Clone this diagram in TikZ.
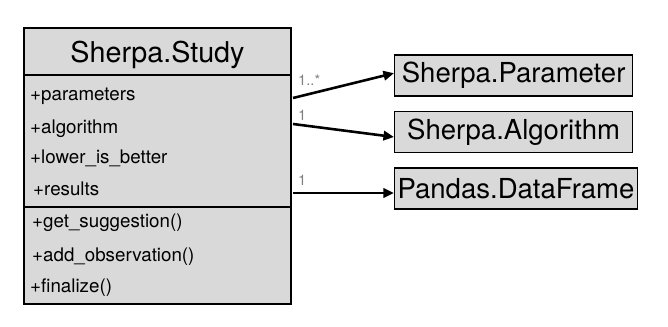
\documentclass[tikz,border=0pt]{standalone}
\usepackage{fontspec}
\setmainfont{TeX Gyre Heros}
\usetikzlibrary{arrows.meta}
\definecolor{boxgray}{HTML}{D9D9D9}
\definecolor{multgray}{HTML}{808080}
\begin{document}
\begin{tikzpicture}[
  part/.style={draw, line width=1.1pt, fill=boxgray, minimum width=8.01cm, inner sep=0pt},
  row/.style={anchor=base west, inner sep=0pt, font=\fontsize{16}{19}\selectfont},
  cls/.style={draw, line width=1.1pt, fill=boxgray, anchor=west, minimum height=1.23cm, inner xsep=2.5pt, font=\fontsize{23.5}{27}\selectfont},
  mult/.style={anchor=base west, inner sep=0pt, text=multgray, font=\fontsize{12.5}{15}\selectfont},
  assoc/.style={line width=2.2pt, -{Triangle[length=9pt, width=8pt]}}
]
  \useasboundingbox (0,0) rectangle (20.04,9.78);
  \node[part, minimum height=1.41cm] (head) at (4.725,8.235) {};
  \node[part, minimum height=3.96cm] (attrs) at (4.725,5.55) {};
  \node[part, minimum height=2.91cm] (meths) at (4.725,2.115) {};
  \node[anchor=base, inner sep=0pt, font=\fontsize{24.5}{28}\selectfont] (title) at (4.725,7.89) {Sherpa.Study};
  \node[row] (par) at (0.9,6.78) {+parameters};
  \node[row] (alg) at (0.9,5.79) {+algorithm};
  \node[row] (low) at (0.9,4.89) {+lower\_is\_better};
  \node[row] (res) at (0.99,3.93) {+results};
  \node[row] (gets) at (0.96,2.97) {+get\_suggestion()};
  \node[row] (addo) at (0.96,1.95) {+add\_observation()};
  \node[row] (fin) at (0.9,1.02) {+finalize()};
  \node[cls, minimum width=7.14cm] (param) at (11.82,7.515) {Sherpa.Parameter};
  \node[cls, minimum width=7.14cm] (algo) at (11.82,5.82) {Sherpa.Algorithm};
  \node[cls] (frame) at (11.82,4.125) {Pandas.DataFrame};
  \coordinate (outpar) at (8.79,6.84);
  \coordinate (outalg) at (8.79,6.06);
  \coordinate (outres) at (8.79,3.99);
  \draw[assoc] (outpar) -- ([yshift=0.07cm]param.west);
  \draw[assoc] (outalg) -- ([yshift=-0.15cm]algo.west);
  \draw[assoc] (outres) -- (frame.west |- outres);
  \node[mult] (mpar) at (8.94,7.2) {1..*};
  \node[mult] (malg) at (8.94,6.18) {1};
  \node[mult] (mres) at (8.94,4.23) {1};
\end{tikzpicture}
\end{document}
